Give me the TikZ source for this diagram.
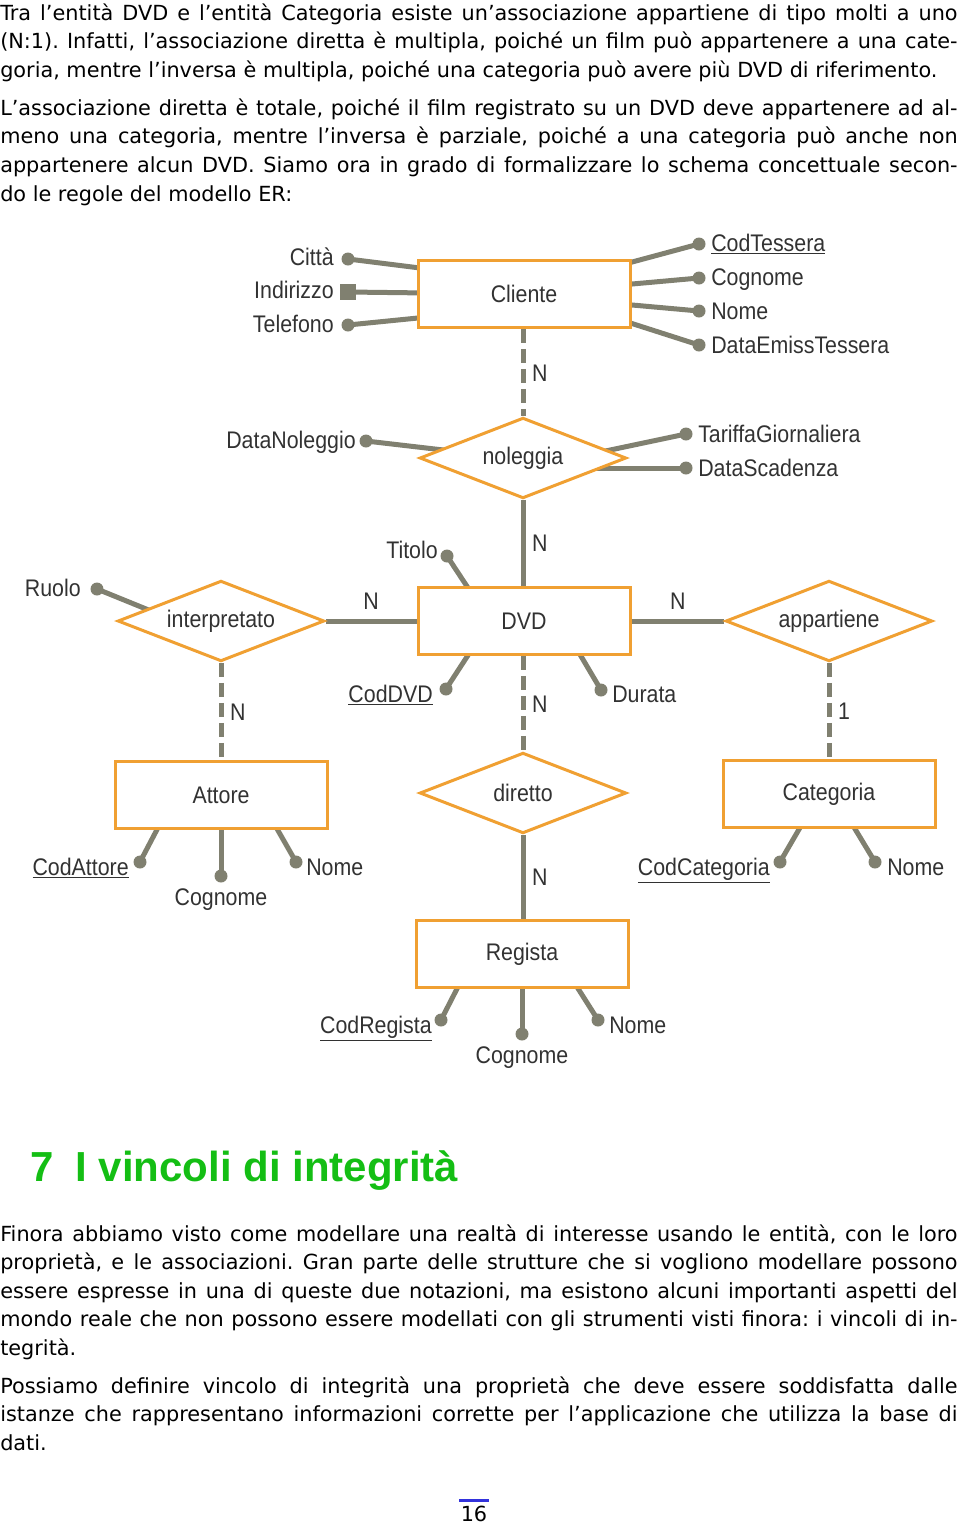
\documentclass[tikz,border=0pt]{standalone}
\usepackage{fontspec}
\setmainfont{DejaVu Sans}
\newfontfamily\erfont[FakeStretch=0.89]{Liberation Sans}
\newfontfamily\headfont{Liberation Sans}
\usetikzlibrary{shapes.geometric,calc,backgrounds}
\definecolor{erorange}{RGB}{240,160,50}
\definecolor{ergray}{RGB}{128,128,112}
\definecolor{ertext}{RGB}{50,50,50}
\definecolor{headgreen}{RGB}{20,190,20}
\definecolor{pageblue}{RGB}{50,50,220}
\newcommand{\erfs}{\erfont\fontsize{18}{20}\selectfont}
\newcommand{\bodyfs}{\fontsize{15.6}{18}\selectfont}
\frenchspacing
\tikzset{
  entity/.style={rectangle, draw=erorange, line width=2.25pt, fill=white,
    minimum width=159pt, minimum height=50pt, inner sep=0pt, font=\erfs, text=ertext},
  relation/.style={diamond, draw=erorange, line width=2.25pt, fill=white,
    minimum width=155pt, minimum height=60.5pt, aspect=2.5, inner sep=0pt, font=\erfs, text=ertext},
  conn/.style={draw=ergray, line width=3.75pt},
  partial/.style={conn, dash pattern=on 10.5pt off 4.5pt},
  attrline/.style={draw=ergray, line width=3.75pt},
  dotnode/.style={circle, fill=ergray, minimum size=9.75pt, inner sep=0pt},
  sqnode/.style={rectangle, fill=ergray, minimum size=12pt, inner sep=0pt},
  lab/.style={font=\erfs, text=ertext, inner sep=0pt, text height=12.75pt, text depth=0pt},
  cardv/.style={lab, midway, anchor=west, xshift=5pt},
  cardh/.style={lab, midway, anchor=south, yshift=6.5pt},
  bodyline/.style={anchor=base west, inner sep=0pt, font=\bodyfs, text=black},
}
\begin{document}
\begin{tikzpicture}[x=0.75pt,y=-0.75pt]
\useasboundingbox (0,0) rectangle (960,1525);

% ---------- top text ----------
\node[bodyline] (t1) at (0,20) {\makebox[718pt][s]{Tra l'entità DVD e l'entità Categoria esiste un'associazione appartiene di tipo molti a uno}};
\node[bodyline] (t2) at (0,48.5) {\makebox[718pt][s]{(N:1). Infatti, l'associazione diretta è multipla, poiché un film può appartenere a una cate-}};
\node[bodyline] (t3) at (0,77) {goria, mentre l'inversa è multipla, poiché una categoria può avere più DVD di riferimento.};
\node[bodyline] (t4) at (0,115) {\makebox[718pt][s]{L'associazione diretta è totale, poiché il film registrato su un DVD deve appartenere ad al-}};
\node[bodyline] (t5) at (0,143.5) {\makebox[718pt][s]{meno una categoria, mentre l'inversa è parziale, poiché a una categoria può anche non}};
\node[bodyline] (t6) at (0,172) {\makebox[718pt][s]{appartenere alcun DVD. Siamo ora in grado di formalizzare lo schema concettuale secon-}};
\node[bodyline] (t7) at (0,201) {do le regole del modello ER:};

% ---------- entities and relationships ----------
\node[entity] (cliente) at (524,294) {Cliente};
\node[relation] (noleggia) at (523,458) {noleggia};
\node[entity] (dvd) at (524,621) {DVD};
\node[relation] (interpretato) at (221,621) {interpretato};
\node[relation] (appartiene) at (829,621) {appartiene};
\node[entity] (attore) at (221,795) {Attore};
\node[relation] (diretto) at (523,793) {diretto};
\node[entity] (categoria) at (829,794) {Categoria};
\node[entity] (regista) at (522,954) {Regista};

% ---------- attribute dots ----------
\node[dotnode] (cittaD) at (348,259) {};
\node[sqnode] (indirizzoD) at (348,292) {};
\node[dotnode] (telefonoD) at (348,325) {};
\node[dotnode] (codtesseraD) at (699,244) {};
\node[dotnode] (cognomeCD) at (699,278) {};
\node[dotnode] (nomeCD) at (699,311) {};
\node[dotnode] (dataemissD) at (699,345) {};
\node[dotnode] (datanolD) at (366,441) {};
\node[dotnode] (tariffaD) at (686,434) {};
\node[dotnode] (datascadD) at (686,468) {};
\node[dotnode] (titoloD) at (447,556) {};
\node[dotnode] (coddvdD) at (446,689) {};
\node[dotnode] (durataD) at (601,690) {};
\node[dotnode] (ruoloD) at (97,589) {};
\node[dotnode] (codattoreD) at (140,862) {};
\node[dotnode] (cognomeAD) at (221,876) {};
\node[dotnode] (nomeAD) at (296,862) {};
\node[dotnode] (codcatD) at (780,862) {};
\node[dotnode] (nomecatD) at (875,862) {};
\node[dotnode] (codregD) at (441,1020) {};
\node[dotnode] (cognomeRD) at (522,1034) {};
\node[dotnode] (nomeRD) at (598,1020) {};

% ---------- attribute labels ----------
\node[lab, anchor=east] (cittaL) at (334,257) {Città};
\node[lab, anchor=east] (indirizzoL) at (334,290) {Indirizzo};
\node[lab, anchor=east] (telefonoL) at (334,324) {Telefono};
\node[lab, anchor=west] (codtesseraL) at (711,243) {\underline{CodTessera}};
\node[lab, anchor=west] (cognomeCL) at (711,277) {Cognome};
\node[lab, anchor=west] (nomeCL) at (711,311) {Nome};
\node[lab, anchor=west] (dataemissL) at (711,345) {DataEmissTessera};
\node[lab, anchor=east] (datanolL) at (356,440) {DataNoleggio};
\node[lab, anchor=west] (tariffaL) at (698,434) {TariffaGiornaliera};
\node[lab, anchor=west] (datascadL) at (698,468) {DataScadenza};
\node[lab, anchor=east] (titoloL) at (438,550) {Titolo};
\node[lab, anchor=east] (coddvdL) at (433,694) {\underline{CodDVD}};
\node[lab, anchor=west] (durataL) at (612,694) {Durata};
\node[lab, anchor=east] (ruoloL) at (81,588) {Ruolo};
\node[lab, anchor=east] (codattoreL) at (129,867) {\underline{CodAttore}};
\node[lab] (cognomeAL) at (221,897) {Cognome};
\node[lab, anchor=west] (nomeAL) at (306,867) {Nome};
\node[lab, anchor=east] (codcatL) at (770,867) {\underline{CodCategoria}};
\node[lab, anchor=west] (nomecatL) at (887,867) {Nome};
\node[lab, anchor=east] (codregL) at (432,1025) {\underline{CodRegista}};
\node[lab] (cognomeRL) at (522,1055) {Cognome};
\node[lab, anchor=west] (nomeRL) at (609,1025) {Nome};

% ---------- connectors (behind shapes) ----------
\begin{pgfonlayer}{background}
\draw[partial] (cliente.south -| noleggia.north) -- node[cardv] (c1) {N} (noleggia.north);
\draw[conn] (noleggia.south) -- node[cardv] (c2) {N} (dvd.north -| noleggia.south);
\draw[conn] (interpretato.east) -- node[cardh] (c3) {N} (dvd.west);
\draw[conn] (dvd.east) -- node[cardh] (c4) {N} (appartiene.west);
\draw[partial] (interpretato.south) -- node[cardv] (c5) {N} (attore.north);
\draw[partial] (dvd.south -| diretto.north) -- node[cardv] (c6) {N} (diretto.north);
\draw[partial] (appartiene.south) -- node[cardv] (c7) {1} (categoria.north);
\draw[conn] (diretto.south) -- node[cardv] (c8) {N} (regista.north -| diretto.south);

\draw[attrline] (cittaD.center) -- ($(cliente.center)+(-96,-25)$);
\draw[attrline] (indirizzoD.center) -- ($(cliente.center)+(-96,-1)$);
\draw[attrline] (telefonoD.center) -- ($(cliente.center)+(-96,23)$);
\draw[attrline] (codtesseraD.center) -- ($(cliente.center)+(97,-29)$);
\draw[attrline] (cognomeCD.center) -- ($(cliente.center)+(97,-9)$);
\draw[attrline] (nomeCD.center) -- ($(cliente.center)+(97,10)$);
\draw[attrline] (dataemissD.center) -- ($(cliente.center)+(97,26)$);
\draw[attrline] (datanolD.center) -- ($(noleggia.center)+(-71,-7)$);
\draw[attrline] (tariffaD.center) -- ($(noleggia.center)+(73,-5)$);
\draw[attrline] (datascadD.center) -- ($(noleggia.center)+(72,10)$);
\draw[attrline] (titoloD.center) -- ($(dvd.center)+(-50,-24)$);
\draw[attrline] (coddvdD.center) -- ($(dvd.center)+(-50,25)$);
\draw[attrline] (durataD.center) -- ($(dvd.center)+(51,25)$);
\draw[attrline] (ruoloD.center) -- ($(interpretato.center)+(-65,-8)$);
\draw[attrline] (codattoreD.center) -- ($(attore.center)+(-59,25)$);
\draw[attrline] (cognomeAD.center) -- ($(attore.center)+(0,25)$);
\draw[attrline] (nomeAD.center) -- ($(attore.center)+(51,25)$);
\draw[attrline] (codcatD.center) -- ($(categoria.center)+(-24,25)$);
\draw[attrline] (nomecatD.center) -- ($(categoria.center)+(20,25)$);
\draw[attrline] (codregD.center) -- ($(regista.center)+(-60,25)$);
\draw[attrline] (cognomeRD.center) -- ($(regista.center)+(0,25)$);
\draw[attrline] (nomeRD.center) -- ($(regista.center)+(50,25)$);
\end{pgfonlayer}

% ---------- heading ----------
\node[anchor=base west, inner sep=0pt, font=\headfont\bfseries\fontsize{31.5}{36}\selectfont, text=headgreen] (head) at (30,1181) {7\hspace{0.52em}I vincoli di integrità};

% ---------- bottom text ----------
\node[bodyline] (b1) at (0,1241) {\makebox[718pt][s]{Finora abbiamo visto come modellare una realtà di interesse usando le entità, con le loro}};
\node[bodyline] (b2) at (0,1269.5) {\makebox[718pt][s]{proprietà, e le associazioni. Gran parte delle strutture che si vogliono modellare possono}};
\node[bodyline] (b3) at (0,1298) {\makebox[718pt][s]{essere espresse in una di queste due notazioni, ma esistono alcuni importanti aspetti del}};
\node[bodyline] (b4) at (0,1326.5) {\makebox[718pt][s]{mondo reale che non possono essere modellati con gli strumenti visti finora: i vincoli di in-}};
\node[bodyline] (b5) at (0,1355) {tegrità.};
\node[bodyline] (b6) at (0,1393) {\makebox[718pt][s]{Possiamo definire vincolo di integrità una proprietà che deve essere soddisfatta dalle}};
\node[bodyline] (b7) at (0,1421.5) {\makebox[718pt][s]{istanze che rappresentano informazioni corrette per l'applicazione che utilizza la base di}};
\node[bodyline] (b8) at (0,1450) {dati.};

% ---------- page number ----------
\node[anchor=base, inner sep=0pt, font=\bodyfs] (pnum) at (474,1521) {16};
\draw[pageblue, line width=2.25pt] ($(pnum.north)+(-15,-5)$) -- ($(pnum.north)+(15,-5)$);
\end{tikzpicture}
\end{document}
